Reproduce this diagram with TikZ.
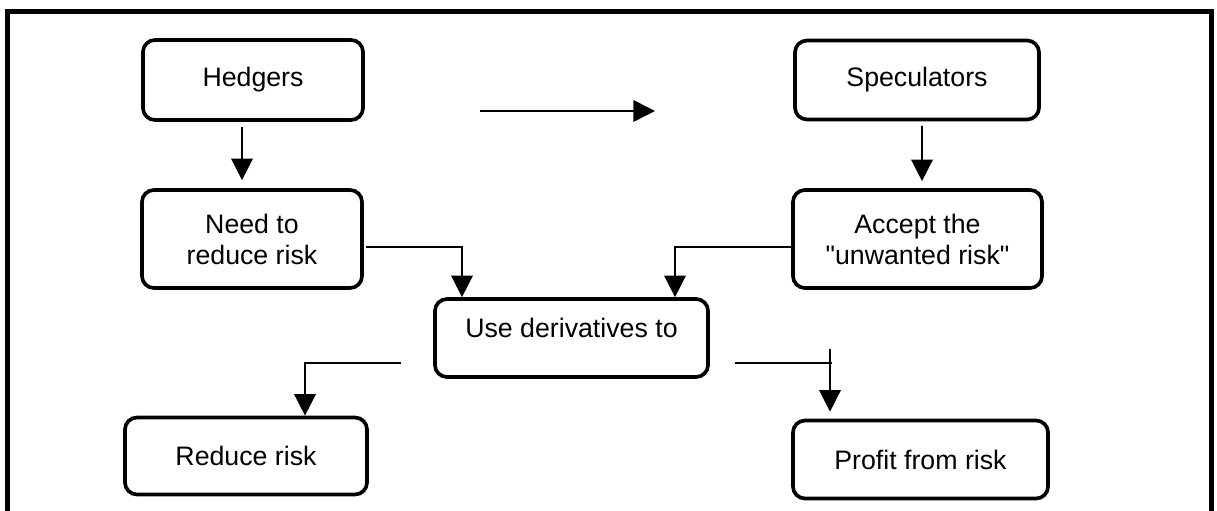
\documentclass[tikz,border=0pt]{standalone}
\usepackage{fontspec}
\setmainfont{Liberation Sans}
\usetikzlibrary{arrows.meta}
\tikzset{
    box/.style={draw, line width=2.6pt, rounded corners=0.3cm, inner sep=0pt, align=center, font=\fontsize{19}{22}\selectfont},
    arr/.style={line width=1.1pt, -{Triangle[length=0.54cm,width=0.54cm]}},
    link/.style={line width=1.1pt},
    frame/.style={line width=3.6pt}
}
\begin{document}
\begin{tikzpicture}[x=0.025cm, y=-0.025cm]
            \useasboundingbox (0,0) rectangle (1217,511);
            \draw[frame] (7.5,530) -- (7.5,11.5) -- (1211.5,11.5) -- (1211.5,530);
            \node[box, minimum width=5.5cm, minimum height=2cm] (hedgers) at (253, 80) {Hedgers};
            \node[box, minimum width=5.5cm, minimum height=2.45cm] (need) at (252, 239) {Need to\\reduce risk};
            \node[box, minimum width=6.1cm, minimum height=1.975cm] (spec) at (917, 80) {Speculators};
            \node[box, minimum width=6.225cm, minimum height=2.45cm] (accept) at (917.5, 239) {Accept the\\\textquotedbl unwanted risk\textquotedbl};
            \node[box, align=none, text depth=0.5cm, minimum width=6.825cm, minimum height=1.95cm] (use) at (571.5, 338) {Use derivatives to};
            \node[box, minimum width=6.05cm, minimum height=1.925cm] (reduce) at (246, 456) {Reduce risk};
            \node[box, minimum width=6.375cm, minimum height=1.95cm] (profit) at (920.5, 459.5) {Profit from risk};
            \coordinate (gapL) at (480, 111);
            \coordinate (gapR) at (655, 111);
            \draw[arr] ([shift={(-11,5)}]hedgers.south) -- ([shift={(-10,-8)}]need.north);
            \draw[arr] ([shift={(5,4.5)}]spec.south) -- ([shift={(4.5,-7)}]accept.north);
            \draw[arr] (gapL) -- (gapR);
            \draw[arr] ([shift={(2,8)}]need.east) -| ([shift={(-109.5,0)}]use.north);
            \draw[arr] ([shift={(0,8)}]accept.west) -| ([shift={(103.5,0)}]use.north);
            \draw[arr] ([shift={(-32,25)}]use.west) -| ([shift={(59,0)}]reduce.north);
            \draw[link] ([shift={(25,25)}]use.east) -- ++(97,0);
            \draw[arr] ([shift={(-90.5,-70)}]profit.north) -- ([shift={(-90.5,-7)}]profit.north);
        \end{tikzpicture}
\end{document}
